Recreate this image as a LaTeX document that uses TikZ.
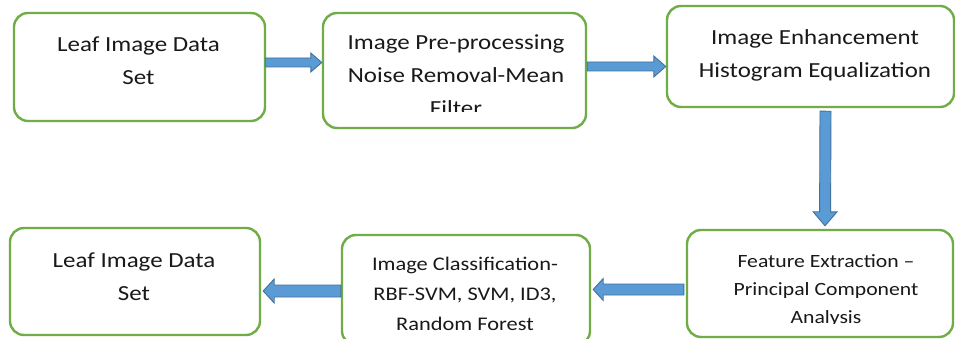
\documentclass[tikz,border=0pt]{standalone}
\usepackage{fontspec}
\setmainfont[FakeStretch=1.16]{Carlito}
\usetikzlibrary{calc}
\definecolor{boxgreen}{HTML}{70AD47}
\definecolor{arrowfill}{HTML}{5B9BD5}
\definecolor{arrowline}{HTML}{41719C}

\tikzset{
  stage/.style={draw=boxgreen, line width=2.4pt, rounded corners=14pt,
    fill=white, inner sep=0pt},
  % anchor base sits on the last line of a multi-line label
  label big/.style={anchor=base, align=center, inner sep=0pt,
    font=\fontsize{21.5}{33}\selectfont, text=black!90},
  label mid/.style={anchor=base, align=center, inner sep=0pt,
    font=\fontsize{19.3}{30}\selectfont, text=black!90},
  label small/.style={anchor=base, align=center, inner sep=0pt,
    font=\fontsize{18.7}{28}\selectfont, text=black!90},
  blockarrow/.style={draw=arrowline, fill=arrowfill, line width=0.9pt,
    line join=miter},
}

% block arrow from #1 to #2: shaft half width #3, head half width #4, head length #5
\newcommand\blockarrow[5]{%
  \coordinate (ah) at ($(#2)!#5!(#1)$);
  \path[blockarrow] ($(#1)!#3!90:(#2)$) -- ($(ah)!#3!90:(#2)$)
    -- ($(ah)!#4!90:(#2)$) -- (#2) -- ($(ah)!#4!-90:(#2)$)
    -- ($(ah)!#3!-90:(#2)$) -- ($(#1)!#3!-90:(#2)$) -- cycle;
}

\begin{document}
\begin{tikzpicture}[x=1pt, y=-1pt]
  \clip (0,0) rectangle (955,339);
  \fill[white] (0,0) rectangle (955,339);

  % stage boxes
  \node[stage, minimum width=251pt, minimum height=108pt] (b1) at (139.5,67) {};
  \node[stage, minimum width=263pt, minimum height=115pt] (b2) at (454.5,70.5) {};
  \node[stage, minimum width=287pt, minimum height=101pt] (b3) at (810.5,56.5) {};
  \node[stage, minimum width=266pt, minimum height=107pt] (b6) at (820,283.5) {};
  \node[stage, minimum width=248pt, minimum height=110pt] (b5) at (466,290) {};
  \node[stage, minimum width=250pt, minimum height=107pt] (b4) at (135,281.5) {};

  % box texts (overflowing lines are cut at the inner bottom margin)
  \node[label big] (t1) at (138.5,85) {Leaf Image Data\\Set};
  \begin{scope}
    \clip (b2.north west) rectangle ($(b2.south east)+(0,-18)$);
    \node[label big] (t2) at (456,116) {Image Pre-processing\\Noise Removal-Mean\\Filter};
  \end{scope}
  \node[label big] (t3) at (815,78) {Image Enhancement\\Histogram Equalization};
  \begin{scope}
    \clip (b6.north west) rectangle ($(b6.south east)+(0,-14.5)$);
    \node[label small] (t6) at (826,323) {Feature Extraction --\\Principal Component\\Analysis};
  \end{scope}
  \node[label mid] (t5) at (465,330) {Image Classification-\\RBF-SVM, SVM, ID3,\\Random Forest};
  \node[label big] (t4) at (134,300) {Leaf Image Data\\Set};

  % connectors
  \coordinate (a1s) at ($(b1.east)+(-1,-4.5)$);
  \coordinate (a1e) at ($(b2.west)+(0,-8)$);
  \blockarrow{a1s}{a1e}{4.5pt}{9.5pt}{11pt}

  \coordinate (a2s) at ($(b2.east)+(0,-4)$);
  \coordinate (a2e) at ($(b3.west)+(0,10)$);
  \blockarrow{a2s}{a2e}{4.5pt}{10.5pt}{12pt}

  \coordinate (a3s) at ($(b3.south)+(15,3)$);
  \coordinate (a3e) at ($(b6.north)+(5,-3)$);
  \blockarrow{a3s}{a3e}{5.5pt}{12pt}{14pt}

  \coordinate (a4s) at ($(b6.west)+(-2,6)$);
  \coordinate (a4e) at ($(b5.east)+(2,-0.5)$);
  \blockarrow{a4s}{a4e}{5.5pt}{11pt}{10pt}

  \coordinate (a5s) at ($(b5.west)+(0,1)$);
  \coordinate (a5e) at ($(b4.east)+(2,9.5)$);
  \blockarrow{a5s}{a5e}{6pt}{12pt}{11pt}
\end{tikzpicture}
\end{document}
